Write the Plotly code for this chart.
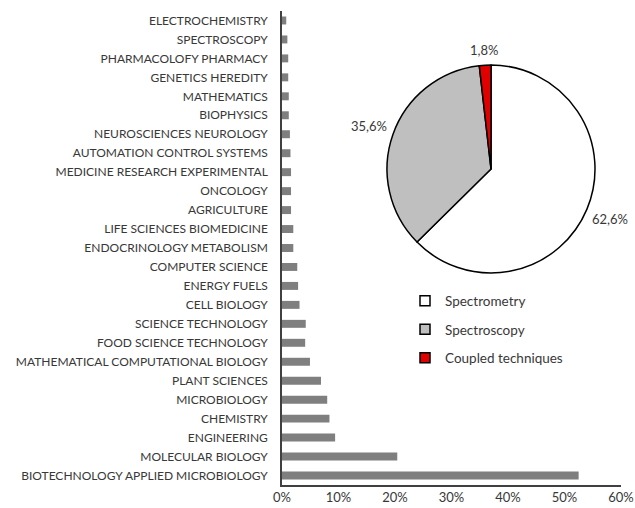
import math
import plotly.graph_objects as go

categories = [
    "ELECTROCHEMISTRY", "SPECTROSCOPY", "PHARMACOLOFY PHARMACY", "GENETICS HEREDITY",
    "MATHEMATICS", "BIOPHYSICS", "NEUROSCIENCES NEUROLOGY", "AUTOMATION CONTROL SYSTEMS",
    "MEDICINE RESEARCH EXPERIMENTAL", "ONCOLOGY", "AGRICULTURE", "LIFE SCIENCES BIOMEDICINE",
    "ENDOCRINOLOGY METABOLISM", "COMPUTER SCIENCE", "ENERGY FUELS", "CELL BIOLOGY",
    "SCIENCE TECHNOLOGY", "FOOD SCIENCE TECHNOLOGY", "MATHEMATICAL COMPUTATIONAL BIOLOGY",
    "PLANT SCIENCES", "MICROBIOLOGY", "CHEMISTRY", "ENGINEERING", "MOLECULAR BIOLOGY",
    "BIOTECHNOLOGY APPLIED MICROBIOLOGY",
]
shares = [
    0.75, 0.95, 1.1, 1.1, 1.2, 1.2, 1.4, 1.5, 1.6, 1.6, 1.6, 2.0, 2.0,
    2.7, 2.85, 3.1, 4.2, 4.1, 4.95, 6.9, 8.0, 8.4, 9.4, 20.4, 52.5,
]
x_ticks = [0, 10, 20, 30, 40, 50, 60]
x_tick_labels = ["0%", "10%", "20%", "30%", "40%", "50%", "60%"]

pie_labels = ["Spectrometry", "Spectroscopy", "Coupled techniques"]
pie_values = [62.6, 35.6, 1.8]
pie_colors = ["#ffffff", "#bfbfbf", "#e00000"]

FONT = "Lato"
TXT = "#383838"

W, H = 635, 508
ML, MR, MT, MB = 282, 14, 11, 23
PW, PH = W - ML - MR, H - MT - MB

# pie placement (pixels)
PCX, PCY, PR = 491, 169, 104
dom_x = [(PCX - PR - ML) / PW, (PCX + PR - ML) / PW]
dom_y = [(H - MB - (PCY + PR)) / PH, (H - MB - (PCY - PR)) / PH]

fig = go.Figure()

fig.add_trace(go.Bar(
    x=shares, y=categories, orientation="h",
    marker=dict(color="#7f7f7f", line=dict(width=0)),
    width=0.42, showlegend=False, hoverinfo="x+y",
))

fig.add_trace(go.Pie(
    labels=pie_labels, values=pie_values, sort=False, direction="clockwise",
    rotation=0,
    marker=dict(colors=pie_colors, line=dict(color="#000000", width=1.5)),
    textinfo="none",
    domain=dict(x=dom_x, y=dom_y),
    showlegend=False, hole=0,
))

# outside-end percentage labels, positioned from the slice mid-angles
total = sum(pie_values)
cum = 0.0
for v in pie_values:
    theta = math.radians(360.0 * (cum + v / 2) / total)
    cum += v
    txt = f"{100 * v / total:.1f}%".replace(".", ",")
    hw, hh = 3.2 * len(txt), 6.0
    s, c = math.sin(theta), math.cos(theta)
    dist = PR + 8 + hw * abs(s) + hh * abs(c)
    px = PCX + dist * s
    py = PCY - dist * c
    fig.add_annotation(
        x=(px - ML) / PW, y=(H - MB - py) / PH, xref="paper", yref="paper",
        text=txt, showarrow=False, xanchor="center", yanchor="middle",
        font=dict(family=FONT, size=13, color=TXT),
    )

for lab, col in zip(pie_labels, pie_colors):
    fig.add_trace(go.Scatter(
        x=[None], y=[None], mode="markers", name=lab, legendgroup=lab,
        marker=dict(symbol="square", size=10, color=col,
                    line=dict(color="#000000", width=1.5)),
    ))

fig.update_layout(
    width=W, height=H,
    margin=dict(l=ML, r=MR, t=MT, b=MB, autoexpand=False),
    paper_bgcolor="white", plot_bgcolor="white",
    font=dict(family=FONT, size=12, color=TXT),
    legend=dict(
        x=(405 - ML) / PW, y=0.421, xanchor="left", yanchor="top",
        font=dict(family=FONT, size=13.5, color=TXT),
        tracegroupgap=8, bgcolor="rgba(0,0,0,0)",
    ),
    xaxis=dict(
        range=[0, 60], tickvals=x_ticks, ticktext=x_tick_labels,
        showgrid=False, zeroline=False, showline=True,
        linecolor="#404040", linewidth=1.5, ticks="",
        tickfont=dict(family=FONT, size=13, color=TXT),
        fixedrange=True, automargin=False,
    ),
    yaxis=dict(
        categoryorder="array", categoryarray=categories[::-1],
        range=[-0.5, 24.5],
        showgrid=False, zeroline=False, showline=True,
        linecolor="#404040", linewidth=1.5, ticks="",
        ticklabelstandoff=10,
        tickfont=dict(family=FONT, size=12, color=TXT),
        fixedrange=True, automargin=False,
    ),
)

fig.write_html(
    "out.html",
    config={"displayModeBar": False},
    post_script="document.body.style.margin='0';document.body.style.padding='0';",
)
